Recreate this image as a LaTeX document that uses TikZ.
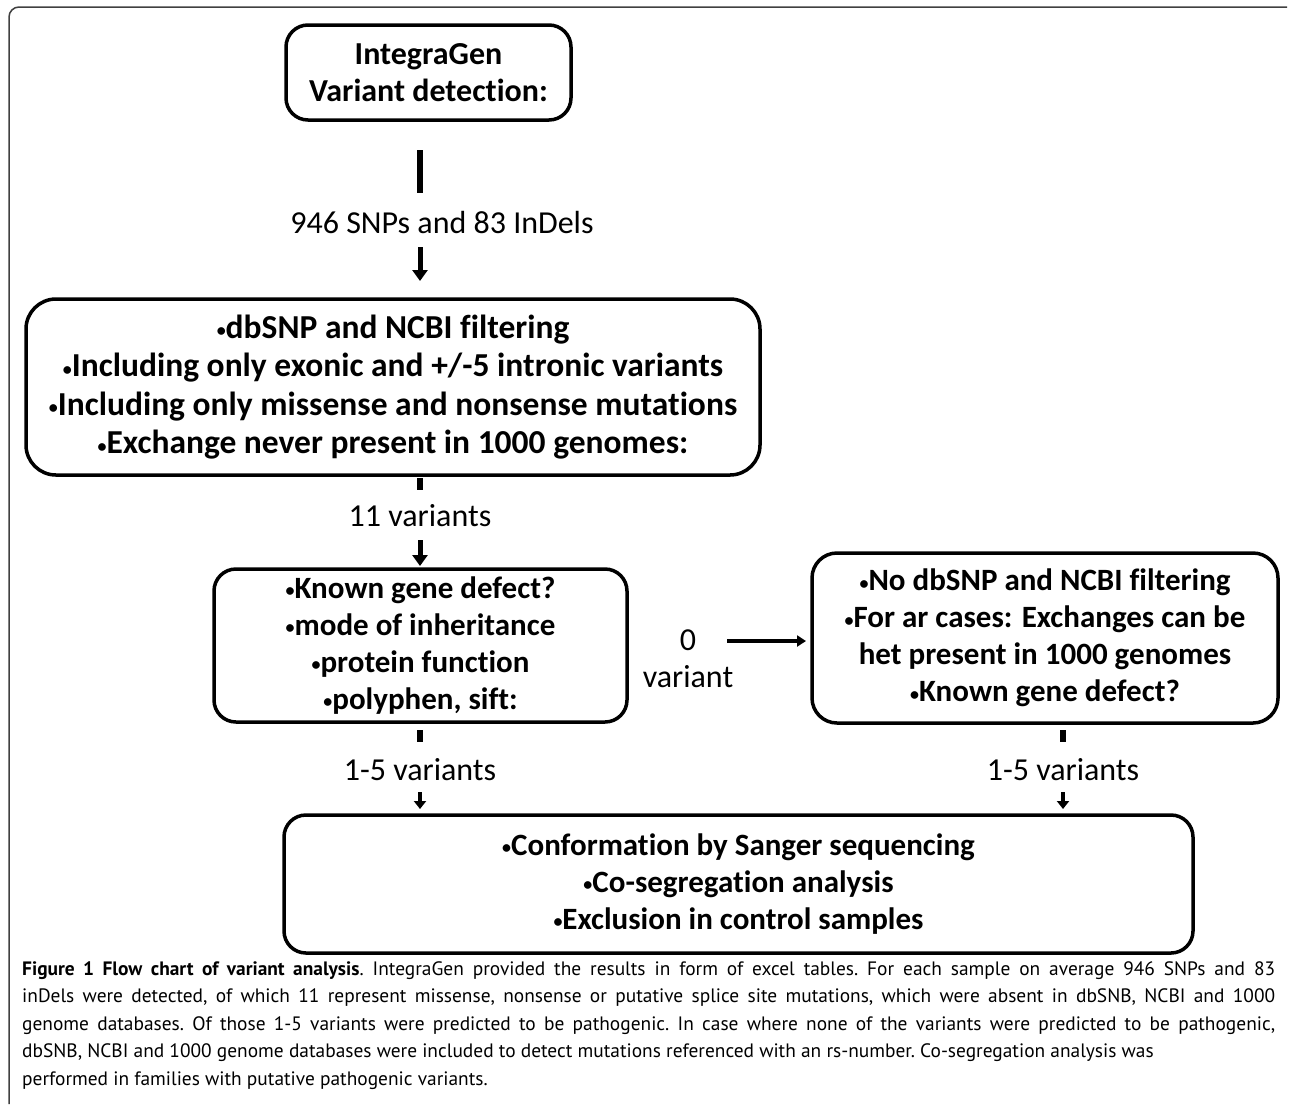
\documentclass[tikz,border=0pt]{standalone}
\usepackage{fontspec}
\setmainfont{Carlito}[Ligatures={NoCommon,NoRare,NoContextual}]
\newfontfamily\capfont{PT Sans}
\usetikzlibrary{arrows.meta}
\newcommand\boxfont{\fontsize{31}{37}\selectfont\bfseries}
\newcommand\labfont{\fontsize{32}{37}\selectfont}
\newcommand\bul{\raisebox{1.5pt}{\fontsize{18}{18}\selectfont •}}
\begin{document}
\begin{tikzpicture}[x=1pt,y=-1pt,
  flowbox/.style={draw, line width=3.5pt, rounded corners=22pt, inner sep=0pt, align=center, font=\boxfont},
  lab/.style={inner sep=0pt, align=center, font=\labfont},
  barline/.style={line width=6pt},
  bigarrow/.style={line width=5pt, -{Triangle[width=15pt,length=11pt]}},
  smallarrow/.style={line width=4.5pt, -{Triangle[width=12pt,length=8pt]}},
  sidearrow/.style={line width=4pt, -{Triangle[width=11pt,length=9pt]}},
  frameline/.style={line width=1.5pt, draw=black!75, rounded corners=10pt}]
\useasboundingbox (0,0) rectangle (1290,1104);
% outer frame
\coordinate (fa) at (9,1104);
\coordinate (fb) at (9,7);
\coordinate (fc) at (1287,7);
\draw[frameline] (fa) -- (fb) -- (fc);
% boxes
\node[flowbox, font=\fontsize{32}{37}\selectfont\bfseries, minimum width=285pt, minimum height=95pt] (b1) at (428.5,72.5) {IntegraGen\\Variant detection:};
\node[flowbox, font=\fontsize{33.5}{38.5}\selectfont\bfseries, rounded corners=30pt, minimum width=734pt, minimum height=176pt] (b2) at (393,387)
  {\bul dbSNP and NCBI filtering\\\bul Including only exonic and +/-5 intronic variants\\\bul Including only missense and nonsense mutations\\\bul Exchange never present in 1000 genomes:};
\node[flowbox, minimum width=413pt, minimum height=153pt] (b3) at (420.5,645.5)
  {\bul Known gene defect?\\\bul mode of inheritance\\\bul protein function\\\bul polyphen, sift:};
\node[flowbox, rounded corners=25pt, minimum width=466pt, minimum height=170pt] (b4) at (1045,638)
  {\bul No dbSNP and NCBI filtering\\\bul For ar cases: Exchanges can be\\het present in 1000 genomes\\\bul Known gene defect?};
\node[flowbox, minimum width=909pt, minimum height=138pt] (b5) at (738.5,884)
  {\bul Conformation by Sanger sequencing\\\bul Co-segregation analysis\\\bul Exclusion in control samples};
% labels
\node[lab] (l1) at (442,222) {946 SNPs and 83 InDels};
\node[lab] (l2) at (420,516) {11 variants};
\node[lab] (l3) at (688,658.5) {0\\variant};
\node[lab] (l4) at (420,770) {1-5 variants};
\node[lab] (l5) at (1063,770) {1-5 variants};
% connector points
\coordinate (s1a) at (420,150); \coordinate (s1b) at (420,193);
\coordinate (a1a) at (420,247); \coordinate (a1b) at (420,281);
\coordinate (s2a) at (420,478); \coordinate (s2b) at (420,490);
\coordinate (a2a) at (420,540); \coordinate (a2b) at (420,566);
\coordinate (h1a) at (727,641); \coordinate (h1b) at (806,641);
\coordinate (s3a) at (420,730); \coordinate (s3b) at (420,742);
\coordinate (s4a) at (1063,730); \coordinate (s4b) at (1063,742);
\coordinate (a3a) at (420,792); \coordinate (a3b) at (420,809);
\coordinate (a4a) at (1063,792); \coordinate (a4b) at (1063,809);
\draw[barline] (s1a) -- (s1b);
\draw[bigarrow] (a1a) -- (a1b);
\draw[barline] (s2a) -- (s2b);
\draw[bigarrow] (a2a) -- (a2b);
\draw[sidearrow] (h1a) -- (h1b);
\draw[barline] (s3a) -- (s3b);
\draw[barline] (s4a) -- (s4b);
\draw[smallarrow] (a3a) -- (a3b);
\draw[smallarrow] (a4a) -- (a4b);
% caption
\node[anchor=base west, inner sep=0pt] (cap) at (22,975) {\parbox[t]{1253pt}{\capfont\fontsize{19.4}{27.5}\selectfont\frenchspacing\setlength{\parindent}{0pt}%
\makebox[1253pt][s]{\textbf{Figure 1 Flow chart of variant analysis}. IntegraGen provided the results in form of excel tables. For each sample on average 946 SNPs and 83}\\
\makebox[1253pt][s]{inDels were detected, of which 11 represent missense, nonsense or putative splice site mutations, which were absent in dbSNB, NCBI and 1000}\\
\makebox[1253pt][s]{genome databases. Of those 1-5 variants were predicted to be pathogenic. In case where none of the variants were predicted to be pathogenic,}\\
dbSNB, NCBI and 1000 genome databases were included to detect mutations referenced with an rs-number. Co-segregation analysis was\\
performed in families with putative pathogenic variants.}};
\end{tikzpicture}
\end{document}
